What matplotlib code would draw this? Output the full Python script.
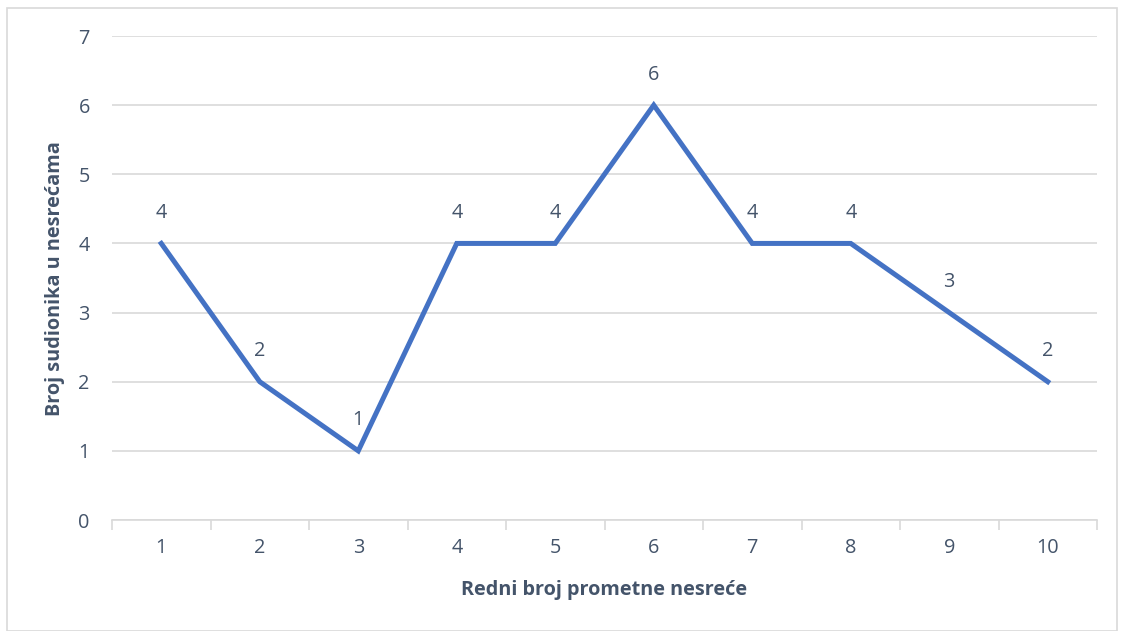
import matplotlib
matplotlib.use("Agg")
import matplotlib.pyplot as plt
from matplotlib.patches import Rectangle

categories = [1, 2, 3, 4, 5, 6, 7, 8, 9, 10]
values = [4, 2, 1, 4, 4, 6, 4, 4, 3, 2]
y_ticks = [0, 1, 2, 3, 4, 5, 6, 7]

plt.rcParams['font.family'] = ['Open Sans', 'DejaVu Sans']
txt = '#44546A'
grid = '#D9D9D9'
fs = 14.3

fig = plt.figure(figsize=(11.22, 6.31), dpi=100)
ax = fig.add_axes([112/1122, 1-520/631, (1097-112)/1122, (520-36)/631])

xs = list(range(1, len(categories)+1))
ax.plot(xs, values, color='#4472C4', lw=3.6, solid_joinstyle='miter', zorder=3)
for x, v in zip(xs, values):
    ax.annotate(str(v), (x, v), xytext=(0, 22), textcoords='offset points',
                ha='center', va='center', color=txt, fontsize=fs)

ax.set_xlim(0.5, len(categories)+0.5)
ax.set_ylim(0, 7)
ax.set_yticks(y_ticks)
ax.set_yticklabels([str(t) for t in y_ticks])
ax.set_xticks(xs)
ax.set_xticklabels([str(c) for c in categories])
ax.set_xticks([i+0.5 for i in range(len(categories)+1)], minor=True)
ax.tick_params(axis='x', which='major', length=0, pad=13, labelsize=fs, labelcolor=txt)
ax.tick_params(axis='x', which='minor', length=7, color=grid, width=1.2)
ax.tick_params(axis='y', length=0, pad=16, labelsize=fs, labelcolor=txt)
ax.grid(axis='y', color=grid, lw=1.2)
ax.set_axisbelow(True)
for s in ['top', 'right', 'left']:
    ax.spines[s].set_visible(False)
ax.spines['bottom'].set_color(grid)
ax.spines['bottom'].set_linewidth(1.2)

fig.text(604.5/1122, 1-595/631, 'Redni broj prometne nesreće', fontsize=fs, fontweight='bold',
         color=txt, ha='center', va='baseline')
fig.text(55/1122, 1-278.5/631, 'Broj sudionika u nesrećama', fontsize=fs, fontweight='bold',
         color=txt, ha='center', va='center', rotation=90)

fig.patches.append(Rectangle((7/1122, 0.5/631), 1110/1122, 623/631, transform=fig.transFigure,
                             fill=False, edgecolor='#D9D9D9', lw=1.2))

fig.savefig('out.png', dpi=100)
